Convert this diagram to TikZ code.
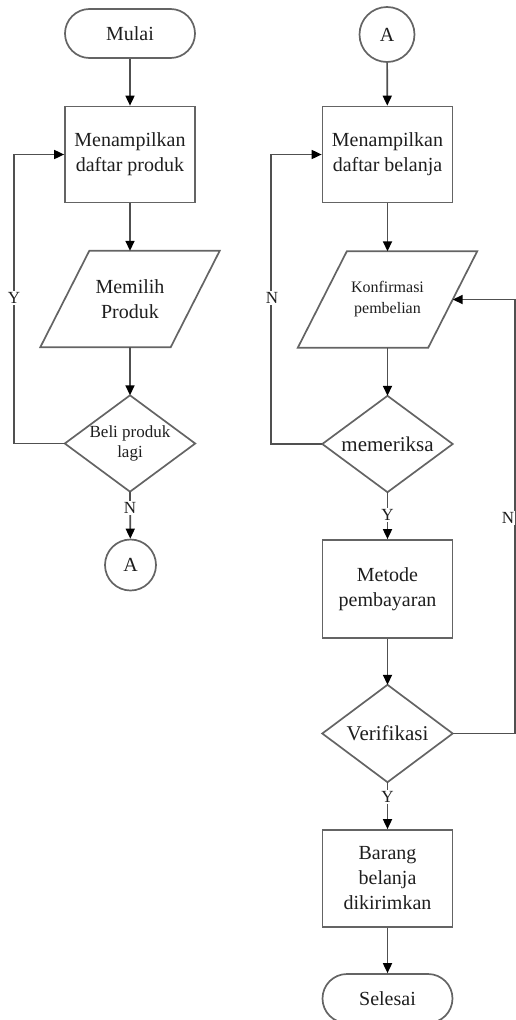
\documentclass[tikz,border=0pt]{standalone}
\usepackage{fontspec}
\setmainfont{Liberation Serif}
\usetikzlibrary{arrows.meta,calc}
\definecolor{shapegray}{RGB}{100,100,100}
\definecolor{linegray}{RGB}{80,80,80}
\definecolor{txt}{RGB}{30,30,30}
\newcommand{\fsz}[2]{\fontsize{#1}{#2}\selectfont}
\begin{document}
\begin{tikzpicture}[x=1pt,y=-1pt,
  shp/.style={draw=shapegray, line width=1.7pt},
  term/.style={shp, rectangle, rounded corners=24.5pt, minimum width=130pt, minimum height=49pt, inner sep=0pt, font=\fsz{20}{25}, text=txt},
  procbox/.style={shp, rectangle, minimum width=130pt, minimum height=96pt, inner sep=2pt, align=center, font=\fsz{20}{25}, text=txt},
  frame/.style={rectangle, minimum width=130pt, minimum height=96pt, inner sep=0pt, align=center, text=txt},
  conn/.style={shp, circle, inner sep=0pt, font=\fsz{20}{25}, text=txt},
  lbl/.style={fill=white, inner sep=1pt, font=\fsz{17}{20}, text=txt},
  arr/.style={draw=linegray, line width=1.7pt, -{Triangle[width=9pt,length=10pt,color=black]}},
]
\useasboundingbox (0,0) rectangle (516,1020);

% ---------- left column ----------
\node[term] (mulai) at (130,33.5) {Mulai};
\node[procbox] (b1) at (130,154.5) {Menampilkan\\daftar produk};
\node[frame, font=\fsz{20}{25}] (p1) at (130,299) {Memilih\\Produk};
\draw[shp] ([xshift=24.5pt]p1.north west) -- ([xshift=24.5pt]p1.north east)
  -- ([xshift=-24.5pt]p1.south east) -- ([xshift=-24.5pt]p1.south west) -- cycle;
\node[frame, font=\fsz{17}{20}] (d1) at (130,443.5) {Beli produk\\lagi};
\draw[shp] (d1.north) -- (d1.east) -- (d1.south) -- (d1.west) -- cycle;
\node[conn, minimum size=51pt] (a1) at (130.5,565) {A};

\draw[arr] (mulai) -- (b1);
\draw[arr] (b1) -- (p1.north);
\draw[arr] (p1.south) -- (d1.north);
\draw[arr] (d1.west) -- ++(-51,0) |- (b1.west);
\draw[arr] (d1.south) -- (a1);
\node[lbl] (ly1) at (14,298) {Y};
\node[lbl] (ln1) at (130,508) {N};

% ---------- right column ----------
\node[conn, minimum size=55pt] (a2) at (387,34.5) {A};
\node[procbox] (b2) at (387.5,154.5) {Menampilkan\\daftar belanja};
\node[frame, font=\fsz{16}{21}] (p2) at (387.5,299.5) {Konfirmasi\\pembelian};
\draw[shp] ([xshift=24.5pt]p2.north west) -- ([xshift=24.5pt]p2.north east)
  -- ([xshift=-24.5pt]p2.south east) -- ([xshift=-24.5pt]p2.south west) -- cycle;
\node[frame, font=\fsz{21}{25}] (d2) at (387.5,444) {memeriksa};
\draw[shp] (d2.north) -- (d2.east) -- (d2.south) -- (d2.west) -- cycle;
\node[procbox, minimum height=98pt] (m) at (387.5,589) {Metode\\pembayaran};
\node[frame, minimum height=97pt, font=\fsz{21}{25}] (d3) at (387.5,733.5) {Verifikasi};
\draw[shp] (d3.north) -- (d3.east) -- (d3.south) -- (d3.west) -- cycle;
\node[procbox, minimum height=97pt] (bk) at (387.5,878.5) {Barang\\belanja\\dikirimkan};
\node[term] (selesai) at (387.5,998.5) {Selesai};

\draw[arr] (a2) -- (b2);
\draw[arr] (b2) -- (p2.north);
\draw[arr] (p2.south) -- (d2.north);
\draw[arr] (d2.west) -- ++(-51,0) |- (b2.west);
\draw[arr] (d2.south) -- (m);
\draw[arr] (m) -- (d3.north);
\draw[arr] (d3.east) -- ++(62,0) |- (p2.east);
\draw[arr] (d3.south) -- (bk);
\draw[arr] (bk) -- (selesai);
\node[lbl] (ln2) at (272,298) {N};
\node[lbl] (ly2) at (387.5,515) {Y};
\node[lbl] (ln3) at (508,518) {N};
\node[lbl] (ly3) at (387.5,797) {Y};
\end{tikzpicture}
\end{document}
